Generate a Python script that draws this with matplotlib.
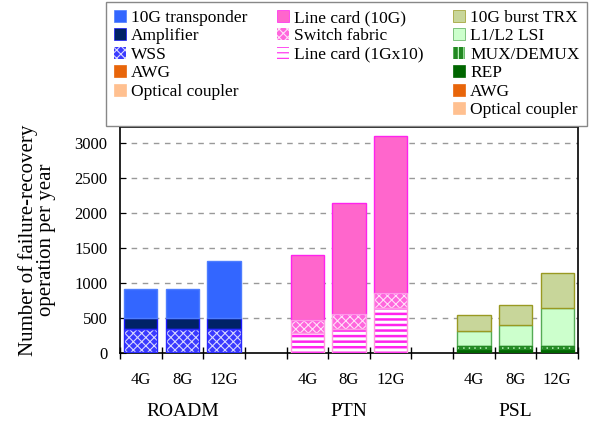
import matplotlib
matplotlib.use("Agg")
import matplotlib.pyplot as plt
from matplotlib.patches import Patch
import matplotlib.transforms as mtransforms
import numpy as np

plt.rcParams['font.family'] = ['Liberation Serif', 'DejaVu Serif']
plt.rcParams['hatch.linewidth'] = 1.5

groups = ["ROADM", "PTN", "PSL"]
rates = ["4G", "8G", "12G"]

# ROADM components (bottom -> top)
roadm_coupler = [5, 5, 5]
roadm_awg = [12, 12, 12]
roadm_wss = [333, 333, 333]
roadm_amp = [150, 150, 150]
roadm_trx = [420, 420, 820]

# PTN components (bottom -> top)
ptn_lc1g = [290, 345, 650]
ptn_sf = [180, 215, 205]
ptn_lc10g = [930, 1590, 2245]

# PSL components (bottom -> top)
psl_coupler = [3, 3, 3]
psl_awg = [5, 5, 5]
psl_rep = [45, 45, 45]
psl_mux = [45, 45, 45]
psl_lsi = [222, 302, 542]
psl_burst = [220, 290, 510]

yticks = [0, 500, 1000, 1500, 2000, 2500, 3000]

fig = plt.figure(figsize=(5.92, 4.21), dpi=100)
ax = fig.add_axes([0.2027, 0.1615, 0.9764 - 0.2027, 0.6983 - 0.1615])

pos_roadm = np.array([0, 1, 2])
pos_ptn = np.array([4, 5, 6])
pos_psl = np.array([8, 9, 10])
w = 0.8

# style: (face, edge, hatch, hatchcolor, hatch linewidth)
styles = {
    'trx': ('#3366ff', '#4d7dff', None, None, 0),
    'amp': ('#002266', '#1a1aff', None, None, 0),
    'wss': ('#3a3aff', '#2a2aff', 'xxxx', '#d8d8ff', 0.8),
    'awg': ('#e8650a', '#e8650a', None, None, 0),
    'coupler': ('#ffc090', '#ffc090', None, None, 0),
    'lc10g': ('#ff66cc', '#ff22ee', None, None, 0),
    'sf': ('#ff66dd', '#ff99e6', 'xxxx', '#ffe0f8', 0.8),
    'lc1g': ('white', '#ff99dd', '---', '#ff22ee', 1.8),
    'burst': ('#c8d69a', '#999922', None, None, 0),
    'lsi': ('#ccffcc', '#55aa55', None, None, 0),
    'mux': ('#228822', '#228822', '|||', '#ccffcc', 1.0),
    'rep': ('#006600', '#006600', None, None, 0),
}


def draw(pos, vals, bottom, key):
    face, edge, hatch, hcol, hlw = styles[key]
    if hatch:
        with plt.rc_context({'hatch.linewidth': hlw}):
            ax.bar(pos, vals, w, bottom=bottom, color=face, edgecolor=hcol,
                   hatch=hatch, linewidth=0, zorder=3)
        ax.bar(pos, vals, w, bottom=bottom, fill=False, edgecolor=edge,
               linewidth=1.0, zorder=4)
    else:
        ax.bar(pos, vals, w, bottom=bottom, color=face, edgecolor=edge,
               linewidth=1.0, zorder=3)
    return bottom + np.array(vals, dtype=float)


b = np.zeros(3)
for key, vals in [('coupler', roadm_coupler), ('awg', roadm_awg), ('wss', roadm_wss),
                  ('amp', roadm_amp), ('trx', roadm_trx)]:
    b = draw(pos_roadm, vals, b, key)

b = np.zeros(3)
for key, vals in [('lc1g', ptn_lc1g), ('sf', ptn_sf), ('lc10g', ptn_lc10g)]:
    b = draw(pos_ptn, vals, b, key)

b = np.zeros(3)
for key, vals in [('coupler', psl_coupler), ('awg', psl_awg), ('rep', psl_rep),
                  ('mux', psl_mux), ('lsi', psl_lsi), ('burst', psl_burst)]:
    b = draw(pos_psl, vals, b, key)

ax.set_xlim(-0.5, 10.5)
ax.set_ylim(0, 3230)
ax.set_yticks(yticks)
ax.tick_params(axis='y', direction='in', length=4, labelsize=12, pad=9, right=False)

all_pos = np.concatenate([pos_roadm, pos_ptn, pos_psl])
ax.set_xticks(all_pos, rates * 3)
ax.tick_params(axis='x', which='major', length=0, labelsize=12, pad=14)
ax.set_xticks(np.arange(-0.5, 10.6, 1.0), minor=True)
ax.tick_params(axis='x', which='minor', direction='inout', length=9, width=1)

for yv in yticks[1:]:
    ax.axhline(yv, color='#999999', linestyle=(0, (4, 4)), linewidth=1.0, zorder=1)

for s in ax.spines.values():
    s.set_linewidth(1.2)

trans = mtransforms.blended_transform_factory(ax.transData, ax.transAxes)
for g, p in zip(groups, [pos_roadm, pos_ptn, pos_psl]):
    ax.text(p.mean(), -0.261, g, transform=trans, ha='center', va='center', fontsize=14)

ax.set_ylabel("Number of failure-recovery\noperation per year", fontsize=15,
              linespacing=0.95)
ax.yaxis.set_label_coords(-0.14, 0.5)


def handle(key):
    face, edge, hatch, hcol, hlw = styles[key]
    if hatch:
        return Patch(facecolor=face, edgecolor=hcol, hatch=hatch, linewidth=0)
    return Patch(facecolor=face, edgecolor=edge, linewidth=0.5)


blank = Patch(facecolor='none', edgecolor='none')
handles = [handle('trx'), handle('amp'), handle('wss'), handle('awg'), handle('coupler'), blank,
           handle('lc10g'), handle('sf'), handle('lc1g'), blank, blank, blank,
           handle('burst'), handle('lsi'), handle('mux'), handle('rep'), handle('awg'), handle('coupler')]
labels = ["10G transponder", "Amplifier", "WSS", "AWG", "Optical coupler", "",
          "Line card (10G)", "Switch fabric", "Line card (1Gx10)", "", "", "",
          "10G burst TRX", "L1/L2 LSI", "MUX/DEMUX", "REP", "AWG", "Optical coupler"]

with plt.rc_context({'hatch.linewidth': 0.8}):
    leg = fig.legend(handles, labels, ncol=3, loc='upper left',
                     bbox_to_anchor=(0.179, 0.995, 0.813, 0.0), mode='expand',
                     fontsize=12.5, handlelength=0.7, handleheight=0.7, handletextpad=0.3,
                     labelspacing=0.13, borderaxespad=0, borderpad=0.45,
                     frameon=True, fancybox=False, edgecolor='#888888', framealpha=1)
leg.get_frame().set_linewidth(1.0)

fig.savefig("out.png", dpi=100)
